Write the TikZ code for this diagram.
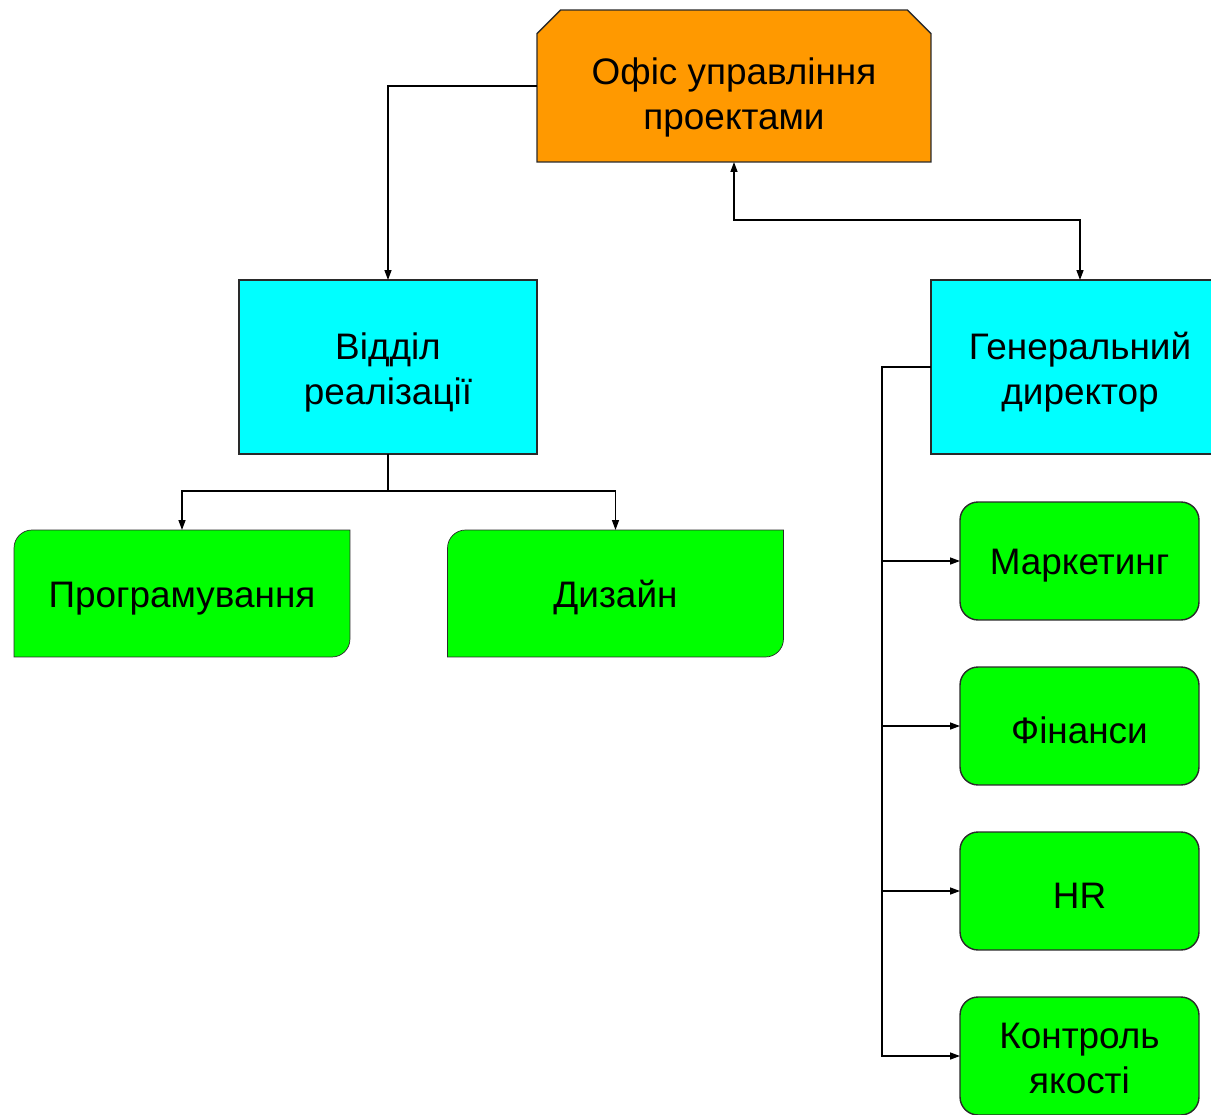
\documentclass[tikz,border=0pt]{standalone}
\usepackage{fontspec}
\setmainfont{Liberation Sans}
\usetikzlibrary{arrows.meta, shapes.misc, backgrounds}

\definecolor{pmorange}{HTML}{FF9900}
\definecolor{deptcyan}{HTML}{00FFFF}
\definecolor{unitgreen}{HTML}{00FF00}
\definecolor{linegray}{HTML}{2A2A2A}

\begin{document}
\begin{tikzpicture}[x=0.02cm, y=0.02cm, line width=0.8pt,
    >={Triangle[length=2mm, width=1.4mm]},
    box/.style={draw=linegray, align=center, inner sep=0pt, outer sep=0pt,
        font=\fontsize{21}{25.5}\selectfont},
    oneline/.style={text height=20pt},
    twolines/.style={text height=#1, text depth=5pt},
    pmo/.style={box, fill=pmorange, chamfered rectangle,
        chamfered rectangle corners={north west, north east},
        chamfered rectangle xsep=0.24cm, chamfered rectangle ysep=0.23cm,
        minimum width=7.88cm, minimum height=3.04cm, twolines=54pt},
    dept/.style={box, fill=deptcyan, minimum width=5.96cm, minimum height=3.48cm,
        twolines=48pt},
    team/.style={box, oneline, draw=none, minimum width=6.72cm, minimum height=2.54cm},
    unit/.style={box, fill=unitgreen, rounded corners=0.36cm,
        minimum width=4.78cm, minimum height=2.36cm}]
    \useasboundingbox (0,0) rectangle (1211,-1115);
    \clip (0,0) rectangle (1211,-1115);

    % Define boxes
    \node[pmo] (pmo) at (734,-86) {Офіс управління\\проектами};
    \node[dept] (impl) at (388,-367) {Відділ\\реалізації};
    \node[dept] (ceo) at (1080,-367) {Генеральний\\директор};
    \node[team] (prog) at (182,-593.5) {Програмування};
    \node[team] (design) at (615.5,-593.5) {Дизайн};
    \node[unit, oneline] (mkt) at (1079.5,-561) {Маркетинг};
    \node[unit, oneline] (fin) at (1079.5,-726) {Фінанси};
    \node[unit, oneline] (hr) at (1079.5,-891) {HR};
    \node[unit, twolines=48pt] (qa) at (1079.5,-1056) {Контроль\\якості};

    % Team boxes: two corners rounded
    \begin{scope}[on background layer]
        \foreach \n in {prog, design}
            \draw[draw=linegray, fill=unitgreen] (\n.south west)
                -- ([yshift=-0.36cm]\n.north west) arc[start angle=180, end angle=90, radius=0.36cm]
                -- (\n.north east)
                -- ([yshift=0.36cm]\n.south east) arc[start angle=0, end angle=-90, radius=0.36cm]
                -- cycle;
    \end{scope}

    % Links from the office
    \coordinate (mid) at (734,-220);
    \draw[->] (pmo.west) -| (impl.north);
    \draw[<->] (pmo.south) -- (mid) -| (ceo.north);

    % Links inside the department
    \coordinate (fork) at (388,-491);
    \draw (impl.south) -- (fork);
    \draw[->] (fork) -| (prog.north);
    \draw[->] (fork) -| (design.north);

    % Links from the director
    \coordinate (bus) at (882,-367);
    \draw[->] (ceo.west) -- (bus) |- (qa.west);
    \foreach \n in {mkt, fin, hr}
        \draw[->] (bus |- \n.west) -- (\n.west);

\end{tikzpicture}
\end{document}
